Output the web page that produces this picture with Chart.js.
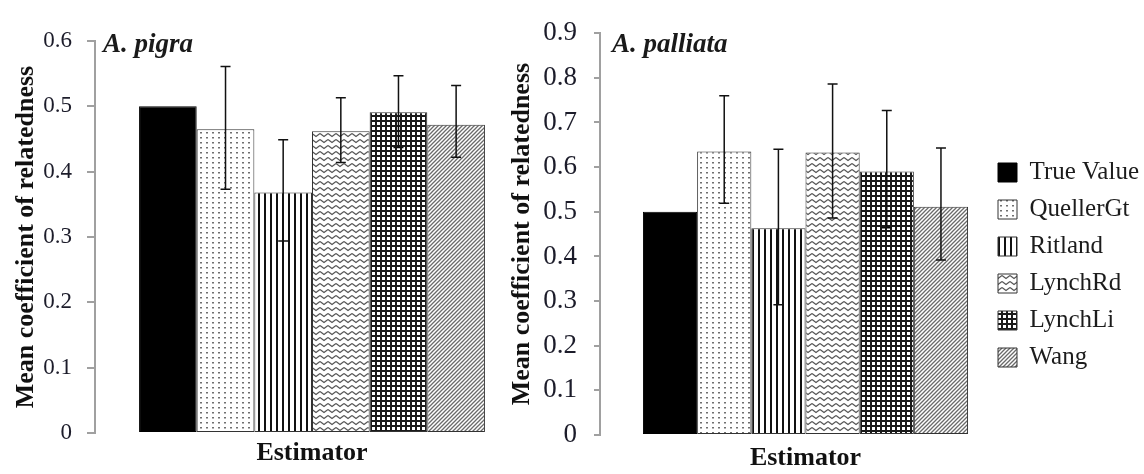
<!DOCTYPE html>
<html>
<head>
<meta charset="utf-8">
<script src="https://cdn.jsdelivr.net/npm/chart.js@4.4.1/dist/chart.umd.min.js"></script>
<style>
  html, body { margin: 0; padding: 0; background: #fff; overflow: hidden; }
  body { width: 1144px; height: 474px; position: relative; }
  canvas { position: absolute; }
  #pigraChart { left: 0; top: 0; }
  #palliataChart { left: 500px; top: 0; }
  #legendChart { left: 986px; top: 148px; }
</style>
</head>
<body>
<canvas id="pigraChart" width="529" height="474"></canvas>
<canvas id="palliataChart" width="511" height="474"></canvas>
<canvas id="legendChart" width="400" height="300"></canvas>
<script>
// data
const estimators = ['True Value', 'QuellerGt', 'Ritland', 'LynchRd', 'LynchLi', 'Wang'];
const groupLabel = ['Estimator'];

const pigraMean = [0.500, 0.465, 0.368, 0.462, 0.491, 0.472];
const pigraLow  = [null, 0.373, 0.294, 0.414, 0.437, 0.422];
const pigraHigh = [null, 0.561, 0.449, 0.513, 0.547, 0.532];

const palliataMean = [0.500, 0.635, 0.463, 0.633, 0.590, 0.511];
const palliataLow  = [null, 0.519, 0.292, 0.486, 0.464, 0.392];
const palliataHigh = [null, 0.760, 0.640, 0.786, 0.727, 0.643];

const pigraTicks = { max: 0.6, step: 0.1 };
const palliataTicks = { max: 0.9, step: 0.1 };

const yTitle = 'Mean coefficient of relatedness';
const xTitle = 'Estimator';

Chart.defaults.font.family = "'Liberation Serif', 'Times New Roman', serif";
Chart.defaults.color = '#1c1c1c';

// fill patterns, one per estimator
function makePatterns(ctx) {
    const tile = (w, h, draw) => {
        const c = document.createElement('canvas');
        c.width = w; c.height = h;
        const g = c.getContext('2d');
        g.fillStyle = '#fff'; g.fillRect(0, 0, w, h);
        draw(g);
        return ctx.createPattern(c, 'repeat');
    };
    return [
        '#000',
        tile(6, 5, g => { g.fillStyle = '#707070'; g.fillRect(2, 2, 2, 1.5); }),
        tile(6, 6, g => { g.fillStyle = '#111'; g.fillRect(0, 0, 2, 6); }),
        tile(8, 6, g => {
            g.strokeStyle = '#555'; g.lineWidth = 1.2;
            g.beginPath(); g.moveTo(0, 1.5); g.lineTo(4, 4.5); g.lineTo(8, 1.5); g.stroke();
        }),
        tile(5, 5, g => { g.fillStyle = '#1a1a1a'; g.fillRect(0, 0, 5, 2); g.fillRect(0, 0, 2, 5); }),
        tile(4, 4, g => {
            g.strokeStyle = '#6a6a6a'; g.lineWidth = 1.3;
            g.beginPath();
            g.moveTo(-1, 5); g.lineTo(5, -1);
            g.moveTo(-1, 1); g.lineTo(1, -1);
            g.moveTo(3, 5); g.lineTo(5, 3);
            g.stroke();
        })
    ];
}

function buildDatasets(ctx, values) {
    const fills = makePatterns(ctx);
    return estimators.map((name, i) => ({
        label: name,
        data: values ? [values[i]] : [],
        backgroundColor: fills[i],
        borderColor: i === 0 ? '#000' : '#333',
        borderWidth: 1,
        borderSkipped: false
    }));
}

function errorBars(low, high) {
    return {
        id: 'errorBars',
        afterDatasetsDraw(chart) {
            const { ctx } = chart;
            const y = chart.scales.y;
            ctx.save();
            ctx.strokeStyle = '#111';
            ctx.lineWidth = 1.5;
            chart.data.datasets.forEach((ds, i) => {
                if (low[i] == null) return;
                const bar = chart.getDatasetMeta(i).data[0];
                const yl = y.getPixelForValue(low[i]), yh = y.getPixelForValue(high[i]);
                ctx.beginPath();
                ctx.moveTo(bar.x, yl); ctx.lineTo(bar.x, yh);
                ctx.moveTo(bar.x - 5, yl); ctx.lineTo(bar.x + 5, yl);
                ctx.moveTo(bar.x - 5, yh); ctx.lineTo(bar.x + 5, yh);
                ctx.stroke();
            });
            ctx.restore();
        }
    };
}

function panelLabel(text, dx) {
    return {
        id: 'panelLabel',
        afterDraw(chart) {
            const { ctx, chartArea } = chart;
            ctx.save();
            ctx.font = "italic bold 27px 'Liberation Serif', 'Times New Roman', serif";
            ctx.fillStyle = '#1a1a1a';
            ctx.textBaseline = 'alphabetic';
            ctx.fillText(text, chartArea.left + dx, 52);
            ctx.restore();
        }
    };
}

function panelChart(id, mean, low, high, ticks, cfg) {
    const canvas = document.getElementById(id);
    const ctx = canvas.getContext('2d');
    return new Chart(ctx, {
        type: 'bar',
        data: { labels: groupLabel, datasets: buildDatasets(ctx, mean) },
        options: {
            responsive: false,
            animation: false,
            events: [],
            layout: { padding: { top: cfg.top, right: 0, bottom: 0, left: 0 } },
            datasets: { bar: { barPercentage: 1, categoryPercentage: cfg.catPct, clip: false } },
            plugins: { legend: { display: false }, tooltip: { enabled: false } },
            scales: {
                x: {
                    grid: { display: false },
                    border: { display: false },
                    ticks: { display: false },
                    title: { display: true, text: xTitle, font: { size: 26, weight: 'bold' }, color: '#111', padding: { top: 0, bottom: cfg.xPad } },
                    afterFit: s => { s.height = cfg.xHeight; }
                },
                y: {
                    min: 0,
                    max: ticks.max,
                    ticks: { stepSize: ticks.step, font: { size: cfg.tickSize }, padding: cfg.tickPad, color: '#1c1c2a' },
                    grid: { drawOnChartArea: false, drawTicks: true, tickLength: cfg.tickLen, color: '#a0a0a0', lineWidth: 2 },
                    border: { color: '#a0a0a0', width: 2 },
                    title: { display: true, text: yTitle, font: { size: 26, weight: 'bold' }, color: '#111', padding: { top: cfg.yPad, bottom: 0 } },
                    afterFit: s => { s.width = cfg.yWidth; }
                }
            }
        },
        plugins: [errorBars(low, high), panelLabel(cfg.label, cfg.labelDx)]
    });
}

panelChart('pigraChart', pigraMean, pigraLow, pigraHigh, pigraTicks, {
    top: 41, xHeight: 41, xPad: 5, yWidth: 95, yPad: 11, tickSize: 23, tickPad: 15, tickLen: 8,
    catPct: 0.797, label: 'A. pigra', labelDx: 8
});

panelChart('palliataChart', palliataMean, palliataLow, palliataHigh, palliataTicks, {
    top: 22, xHeight: 39, xPad: 0, yWidth: 100, yPad: 7, tickSize: 27, tickPad: 17, tickLen: 6,
    catPct: 0.791, label: 'A. palliata', labelDx: 12
});

// legend drawn by its own chart instance at the right edge
const legendCtx = document.getElementById('legendChart').getContext('2d');
new Chart(legendCtx, {
    type: 'bar',
    data: { labels: [], datasets: buildDatasets(legendCtx, null) },
    options: {
        responsive: false,
        animation: false,
        events: [],
        scales: { x: { display: false }, y: { display: false } },
        plugins: {
            tooltip: { enabled: false },
            legend: {
                position: 'left',
                align: 'start',
                labels: { boxWidth: 19, boxHeight: 19, padding: 12, color: '#1c1c1c', font: { size: 25 } }
            }
        }
    }
});
</script>
</body>
</html>
